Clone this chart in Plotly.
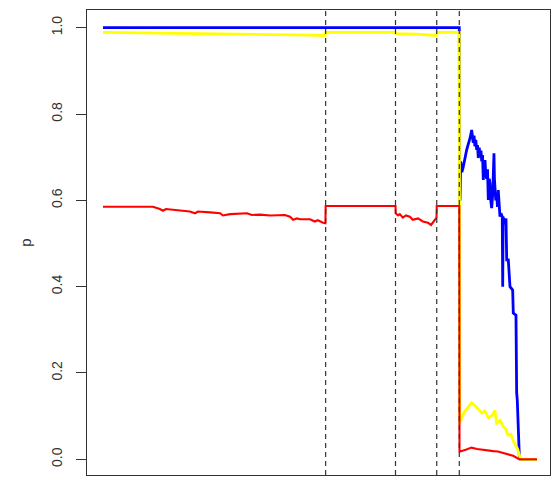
import plotly.graph_objects as go

# ---- data (x in step units) ----
blue_x = [0, 82.1, 82.15, 82.26, 82.42, 82.7, 83.02, 83.4, 83.8, 84.3, 84.6, 84.95, 85.1, 85.32, 85.5,
          85.7, 85.9, 86.11, 86.3, 86.47, 86.7, 86.9, 87.1, 87.26, 87.45,
          87.63, 87.8, 88.02, 88.2, 88.4, 88.6, 88.78, 89.0, 89.17, 89.35, 89.56, 89.8, 90.09, 90.2,
          90.32, 90.5, 90.7, 90.9, 91.08, 91.3, 91.47, 91.7, 92.0, 92.1,
          92.2, 92.5, 92.86, 93.02, 93.39, 93.78, 94.4, 94.54, 95.16, 95.32, 95.46, 95.92, 96.08, 100]
blue_y = [1.0, 1.0, 0.60, 0.601, 0.690, 0.665, 0.678, 0.700, 0.717, 0.735, 0.745, 0.763, 0.745, 0.733, 0.750,
          0.725, 0.740, 0.717, 0.728, 0.698, 0.722, 0.700, 0.715, 0.690, 0.705,
          0.647, 0.680, 0.693, 0.660, 0.650, 0.672, 0.601, 0.650, 0.640, 0.600, 0.582, 0.615, 0.709, 0.650,
          0.624, 0.600, 0.615, 0.585, 0.624, 0.590, 0.562, 0.570, 0.562, 0.400,
          0.562, 0.545, 0.558, 0.462, 0.462, 0.400, 0.392, 0.339, 0.334, 0.154, 0.137, 0.010, 0.0, 0.0]

yellow_x = [0, 10, 20, 30, 40, 48, 51.2, 51.3, 67.4, 67.5, 72, 76.8, 76.9, 82.1, 82.2,
            82.3, 83.3, 84.95, 86.0, 87.3, 88.0, 88.8, 89.7, 90.3, 90.7, 91.5, 92.2, 92.8,
            93.3, 94.0, 94.6, 95.5, 96.0, 96.1, 100]
yellow_y = [0.989, 0.988, 0.987, 0.986, 0.985, 0.983, 0.982, 0.989, 0.989, 0.986, 0.985, 0.982, 0.989, 0.989, 0.087,
            0.087, 0.110, 0.131, 0.122, 0.107, 0.112, 0.096, 0.102, 0.113, 0.084, 0.090, 0.076, 0.070,
            0.056, 0.058, 0.041, 0.025, 0.008, 0.0, 0.0]

red_x = [0, 3.9, 8.5, 11.5, 13.1, 13.8, 14.5, 17.7, 20.0, 21.2, 21.9, 24.7, 27.0, 27.6, 29.3,
         33.2, 34.3, 36.2, 38.5, 41.9, 43.1, 43.8, 44.7, 45.4, 47.7, 48.8, 49.5, 50.7, 51.25,
         51.3, 67.4, 67.45, 68.0, 68.4, 69.1, 69.8, 70.7, 71.4, 72.6, 73.7, 74.9, 75.6, 76.0,
         76.5, 76.85, 76.9, 82.1, 82.15, 82.3, 83.6, 84.9, 86.2, 87.3, 88.5, 89.9, 91.0, 92.2,
         93.3, 94.5, 95.6, 96.1, 100]
red_y = [0.585, 0.585, 0.584, 0.585, 0.580, 0.576, 0.580, 0.577, 0.574, 0.570, 0.574, 0.572, 0.570, 0.565, 0.568,
         0.570, 0.566, 0.567, 0.565, 0.566, 0.562, 0.555, 0.558, 0.556, 0.556, 0.551, 0.554, 0.548, 0.547,
         0.587, 0.587, 0.570, 0.565, 0.568, 0.560, 0.565, 0.562, 0.555, 0.558, 0.551, 0.548, 0.543, 0.548,
         0.556, 0.560, 0.587, 0.587, 0.018, 0.018, 0.022, 0.027, 0.024, 0.022, 0.021, 0.019, 0.018, 0.015,
         0.011, 0.008, 0.002, 0.0, 0.0]

breaks = [51.3, 67.4, 76.9, 82.1]
y_ticks = [0.0, 0.2, 0.4, 0.6, 0.8, 1.0]
y_tick_labels = ["0.0", "0.2", "0.4", "0.6", "0.8", "1.0"]

fig = go.Figure()
fig.add_trace(go.Scatter(x=blue_x, y=blue_y, mode="lines",
                         line=dict(color="#0000FF", width=2.8), showlegend=False))
fig.add_trace(go.Scatter(x=yellow_x, y=yellow_y, mode="lines",
                         line=dict(color="#FFFF00", width=2.8), showlegend=False))
fig.add_trace(go.Scatter(x=red_x, y=red_y, mode="lines",
                         line=dict(color="#FF0000", width=2.1), showlegend=False))

for b in breaks:
    fig.add_shape(type="line", xref="x", yref="paper", x0=b, x1=b, y0=0, y1=1,
                  line=dict(color="#333333", width=1.2, dash="5px,4px"), layer="above")

fig.update_layout(
    width=552, height=477,
    margin=dict(l=87, r=2, t=10, b=2),
    paper_bgcolor="white", plot_bgcolor="white",
    font=dict(family="Liberation Sans, Arial, sans-serif", color="#333333"),
)
fig.update_xaxes(range=[-3.69, 103.0], showgrid=False, zeroline=False,
                 showticklabels=False, ticks="", showline=True, mirror=True,
                 linecolor="#333333", linewidth=1)
fig.update_yaxes(range=[-0.0364, 1.041], showgrid=False, zeroline=False,
                 tickvals=y_ticks, ticktext=y_tick_labels, tickangle=-90,
                 ticks="outside", ticklen=10, tickwidth=1, tickcolor="#333333",
                 tickfont=dict(size=14, color="#333333"),
                 ticklabelstandoff=8,
                 showline=True, mirror=True, linecolor="#333333", linewidth=1,
                 title=dict(text="p", font=dict(size=15, color="#333333"), standoff=14))

fig.write_html("out.html")
